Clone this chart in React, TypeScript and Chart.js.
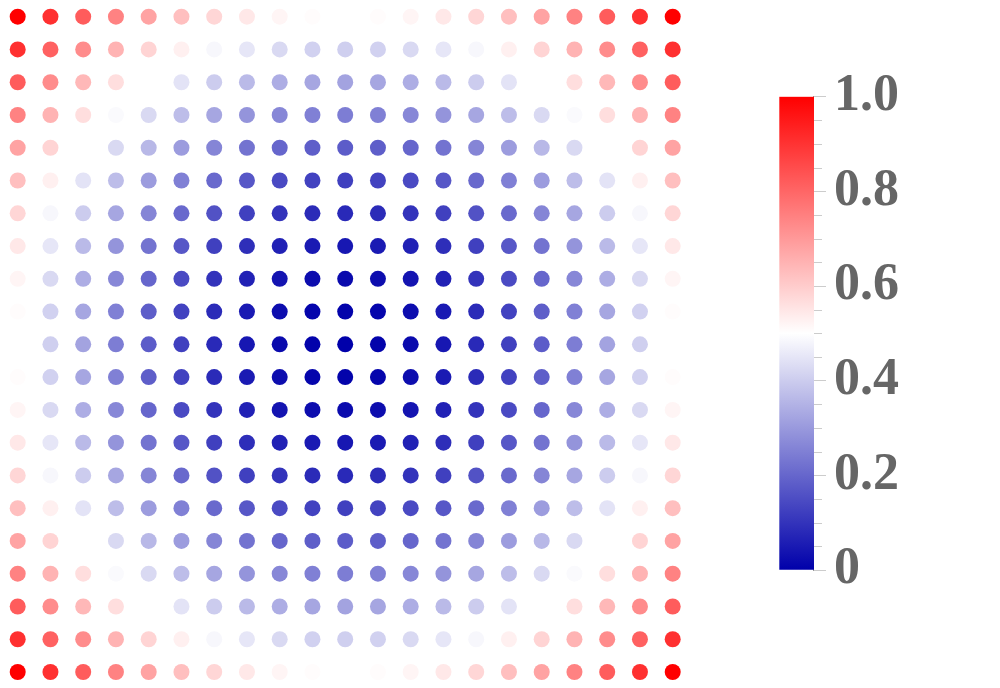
import React, { useEffect, useRef } from "react";
import { Chart, registerables } from "chart.js";

Chart.register(...registerables);

const xCoords = [-1, -0.9, -0.8, -0.7, -0.6, -0.5, -0.4, -0.3, -0.2, -0.1, 0, 0.1, 0.2, 0.3, 0.4, 0.5, 0.6, 0.7, 0.8, 0.9, 1];
const yCoords = [1, 0.9, 0.8, 0.7, 0.6, 0.5, 0.4, 0.3, 0.2, 0.1, 0, -0.1, -0.2, -0.3, -0.4, -0.5, -0.6, -0.7, -0.8, -0.9, -1];

const values: number[][] = [
  [1, .905, .82, .745, .68, .625, .58, .545, .52, .505, .5, .505, .52, .545, .58, .625, .68, .745, .82, .905, 1],
  [.905, .81, .725, .65, .585, .53, .485, .45, .425, .41, .405, .41, .425, .45, .485, .53, .585, .65, .725, .81, .905],
  [.82, .725, .64, .565, .5, .445, .4, .365, .34, .325, .32, .325, .34, .365, .4, .445, .5, .565, .64, .725, .82],
  [.745, .65, .565, .49, .425, .37, .325, .29, .265, .25, .245, .25, .265, .29, .325, .37, .425, .49, .565, .65, .745],
  [.68, .585, .5, .425, .36, .305, .26, .225, .2, .185, .18, .185, .2, .225, .26, .305, .36, .425, .5, .585, .68],
  [.625, .53, .445, .37, .305, .25, .205, .17, .145, .13, .125, .13, .145, .17, .205, .25, .305, .37, .445, .53, .625],
  [.58, .485, .4, .325, .26, .205, .16, .125, .1, .085, .08, .085, .1, .125, .16, .205, .26, .325, .4, .485, .58],
  [.545, .45, .365, .29, .225, .17, .125, .09, .065, .05, .045, .05, .065, .09, .125, .17, .225, .29, .365, .45, .545],
  [.52, .425, .34, .265, .2, .145, .1, .065, .04, .025, .02, .025, .04, .065, .1, .145, .2, .265, .34, .425, .52],
  [.505, .41, .325, .25, .185, .13, .085, .05, .025, .01, .005, .01, .025, .05, .085, .13, .185, .25, .325, .41, .505],
  [.5, .405, .32, .245, .18, .125, .08, .045, .02, .005, 0, .005, .02, .045, .08, .125, .18, .245, .32, .405, .5],
  [.505, .41, .325, .25, .185, .13, .085, .05, .025, .01, .005, .01, .025, .05, .085, .13, .185, .25, .325, .41, .505],
  [.52, .425, .34, .265, .2, .145, .1, .065, .04, .025, .02, .025, .04, .065, .1, .145, .2, .265, .34, .425, .52],
  [.545, .45, .365, .29, .225, .17, .125, .09, .065, .05, .045, .05, .065, .09, .125, .17, .225, .29, .365, .45, .545],
  [.58, .485, .4, .325, .26, .205, .16, .125, .1, .085, .08, .085, .1, .125, .16, .205, .26, .325, .4, .485, .58],
  [.625, .53, .445, .37, .305, .25, .205, .17, .145, .13, .125, .13, .145, .17, .205, .25, .305, .37, .445, .53, .625],
  [.68, .585, .5, .425, .36, .305, .26, .225, .2, .185, .18, .185, .2, .225, .26, .305, .36, .425, .5, .585, .68],
  [.745, .65, .565, .49, .425, .37, .325, .29, .265, .25, .245, .25, .265, .29, .325, .37, .425, .49, .565, .65, .745],
  [.82, .725, .64, .565, .5, .445, .4, .365, .34, .325, .32, .325, .34, .365, .4, .445, .5, .565, .64, .725, .82],
  [.905, .81, .725, .65, .585, .53, .485, .45, .425, .41, .405, .41, .425, .45, .485, .53, .585, .65, .725, .81, .905],
  [1, .905, .82, .745, .68, .625, .58, .545, .52, .505, .5, .505, .52, .545, .58, .625, .68, .745, .82, .905, 1],
];

const colorbarTicks = [0, 0.2, 0.4, 0.6, 0.8, 1.0];
const colorbarLabels = ["0", "0.2", "0.4", "0.6", "0.8", "1.0"];

const LOW = [0, 0, 170];
const MID = [255, 255, 255];
const HIGH = [255, 0, 0];

function colorFor(v: number): string {
  const t = Math.max(0, Math.min(1, v));
  let a: number[], b: number[], f: number;
  if (t <= 0.5) {
    a = LOW; b = MID; f = t / 0.5;
  } else {
    a = MID; b = HIGH; f = (t - 0.5) / 0.5;
  }
  const c = a.map((ai, k) => Math.round(ai + (b[k] - ai) * f));
  return `rgb(${c[0]},${c[1]},${c[2]})`;
}

const SERIF = "'Liberation Serif', 'Times New Roman', 'DejaVu Serif', serif";

export default function App() {
  const mainRef = useRef<HTMLCanvasElement | null>(null);
  const barRef = useRef<HTMLCanvasElement | null>(null);

  useEffect(() => {
    const points: { x: number; y: number }[] = [];
    const colors: string[] = [];
    for (let j = 0; j < yCoords.length; j++) {
      for (let i = 0; i < xCoords.length; i++) {
        points.push({ x: xCoords[i], y: yCoords[j] });
        colors.push(colorFor(values[j][i]));
      }
    }

    const main = new Chart(mainRef.current as HTMLCanvasElement, {
      type: "scatter",
      data: {
        datasets: [
          {
            data: points,
            pointBackgroundColor: colors,
            pointBorderWidth: 0,
            pointRadius: 8,
            pointHoverRadius: 8,
            clip: false,
          } as any,
        ],
      },
      options: {
        animation: false,
        responsive: false,
        events: [],
        layout: { padding: { left: 17.7, right: 327.3, top: 16.7, bottom: 16 } },
        scales: {
          x: { type: "linear", min: -1, max: 1, display: false },
          y: { type: "linear", min: -1, max: 1, display: false },
        },
        plugins: { legend: { display: false }, tooltip: { enabled: false } },
      },
    });

    const isMajor = (v: number) => colorbarTicks.some((t) => Math.abs(t - v) < 1e-6);

    const minorTicks = {
      id: "minorTicks",
      afterDraw(chart: any) {
        const s = chart.scales.y;
        const ctx = chart.ctx;
        const right = chart.chartArea.right;
        ctx.save();
        ctx.strokeStyle = "#cccccc";
        ctx.lineWidth = 1;
        for (const t of s.ticks) {
          if (isMajor(t.value)) continue;
          const y = Math.round(s.getPixelForValue(t.value)) + 0.5;
          ctx.beginPath();
          ctx.moveTo(right, y);
          ctx.lineTo(right + 8, y);
          ctx.stroke();
        }
        ctx.restore();
      },
    };

    const BAR_CANVAS_W = 240;
    const BAR_LEFT_PAD = 19.3;
    const BAR_W = 34.7;

    const bar = new Chart(barRef.current as HTMLCanvasElement, {
      type: "bar",
      data: {
        labels: [""],
        datasets: [
          {
            data: [1],
            barPercentage: 1,
            categoryPercentage: 1,
            borderWidth: 0,
            backgroundColor: (ctx: any) => {
              const area = ctx.chart.chartArea;
              if (!area) return "#ffffff";
              const g = ctx.chart.ctx.createLinearGradient(0, area.bottom, 0, area.top);
              g.addColorStop(0, colorFor(0));
              g.addColorStop(0.5, colorFor(0.5));
              g.addColorStop(1, colorFor(1));
              return g;
            },
          } as any,
        ],
      },
      options: {
        animation: false,
        responsive: false,
        events: [],
        layout: { padding: { left: BAR_LEFT_PAD, right: 0, top: 96.7, bottom: 118 } },
        scales: {
          x: { display: false },
          y: {
            position: "right",
            min: 0,
            max: 1,
            afterFit: (s: any) => {
              s.width = BAR_CANVAS_W - BAR_LEFT_PAD - BAR_W;
            },
            ticks: {
              stepSize: 0.05,
              autoSkip: false,
              padding: 8,
              color: "#666666",
              font: { family: SERIF, size: 52, weight: "bold" },
              callback: (value: any) => {
                const v = Number(value);
                const idx = colorbarTicks.findIndex((t) => Math.abs(t - v) < 1e-6);
                return idx >= 0 ? colorbarLabels[idx] : "";
              },
            },
            grid: {
              drawOnChartArea: false,
              drawTicks: true,
              tickLength: 12,
              tickColor: (ctx: any) => (ctx.tick && isMajor(ctx.tick.value) ? "#cccccc" : "rgba(0,0,0,0)"),
            },
            border: { display: true, color: "#999999", width: 1 },
          } as any,
        },
        plugins: { legend: { display: false }, tooltip: { enabled: false } },
      },
      plugins: [minorTicks],
    });

    return () => {
      main.destroy();
      bar.destroy();
    };
  }, []);

  return (
    <div style={{ position: "absolute", left: 0, top: 0, width: 1000, height: 688, background: "#fff" }}>
      <canvas ref={mainRef} width={1000} height={688} style={{ position: "absolute", left: 0, top: 0 }} />
      <canvas ref={barRef} width={240} height={688} style={{ position: "absolute", left: 760, top: 0 }} />
    </div>
  );
}
